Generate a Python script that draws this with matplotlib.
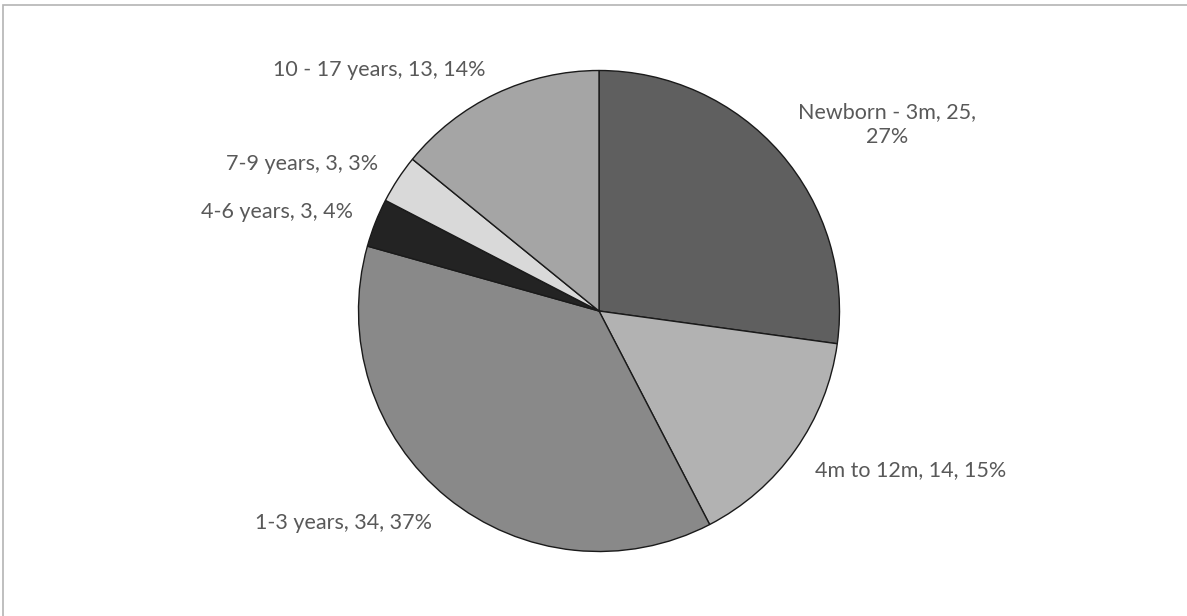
import numpy as np
import matplotlib
matplotlib.use("Agg")
import matplotlib.pyplot as plt
from matplotlib.patches import Rectangle

categories = ["Newborn - 3m", "4m to 12m", "1-3 years", "4-6 years", "7-9 years", "10 - 17 years"]
values = [25, 14, 34, 3, 3, 13]
percents = [27, 15, 37, 4, 3, 14]
colors = ["#5f5f5f", "#b2b2b2", "#898989", "#232323", "#d9d9d9", "#a5a5a5"]

W, H = 1187, 616
fig = plt.figure(figsize=(W / 100, H / 100), dpi=100)
ax = fig.add_axes([0, 0, 1, 1])

cx, cy, R = 599, H - 311, 240.5
wedges, _ = ax.pie(values, colors=colors, startangle=90, counterclock=False,
                   center=(cx, cy), radius=R,
                   wedgeprops=dict(edgecolor="#1a1a1a", linewidth=1.0))
ax.set_xlim(0, W)
ax.set_ylim(0, H)
ax.set_aspect("equal")
ax.set_axis_off()

font = dict(family=["Lato", "DejaVu Sans"], size=15.5, color="#595959")
for w, cat, val, pct in zip(wedges, categories, values, percents):
    mid = np.deg2rad((w.theta1 + w.theta2) / 2)
    px = cx + 1.1 * R * np.cos(mid)
    py = cy + 1.1 * R * np.sin(mid)
    if cat.startswith("Newborn"):
        label = f"{cat}, {val},\n{pct}%"
    else:
        label = f"{cat}, {val}, {pct}%"
    ha = "left" if np.cos(mid) > 0 else "right"
    nlines = label.count("\n") + 1
    if nlines > 1:
        ax.text(px, py - 10, label, ha=ha, va="bottom", multialignment="center",
                linespacing=1.3, **font)
    else:
        dy = 2 if np.sin(mid) > 0 else -7
        ax.text(px, py + dy, label, ha=ha, va="center", **font)

# chart-area border (partly outside the image)
ax.add_patch(Rectangle((3, -20), W + 50, H - 5 + 20, fill=False,
                       edgecolor="#b4b4b4", linewidth=1.2, clip_on=False))

fig.savefig("out.png", dpi=100, facecolor="white")
